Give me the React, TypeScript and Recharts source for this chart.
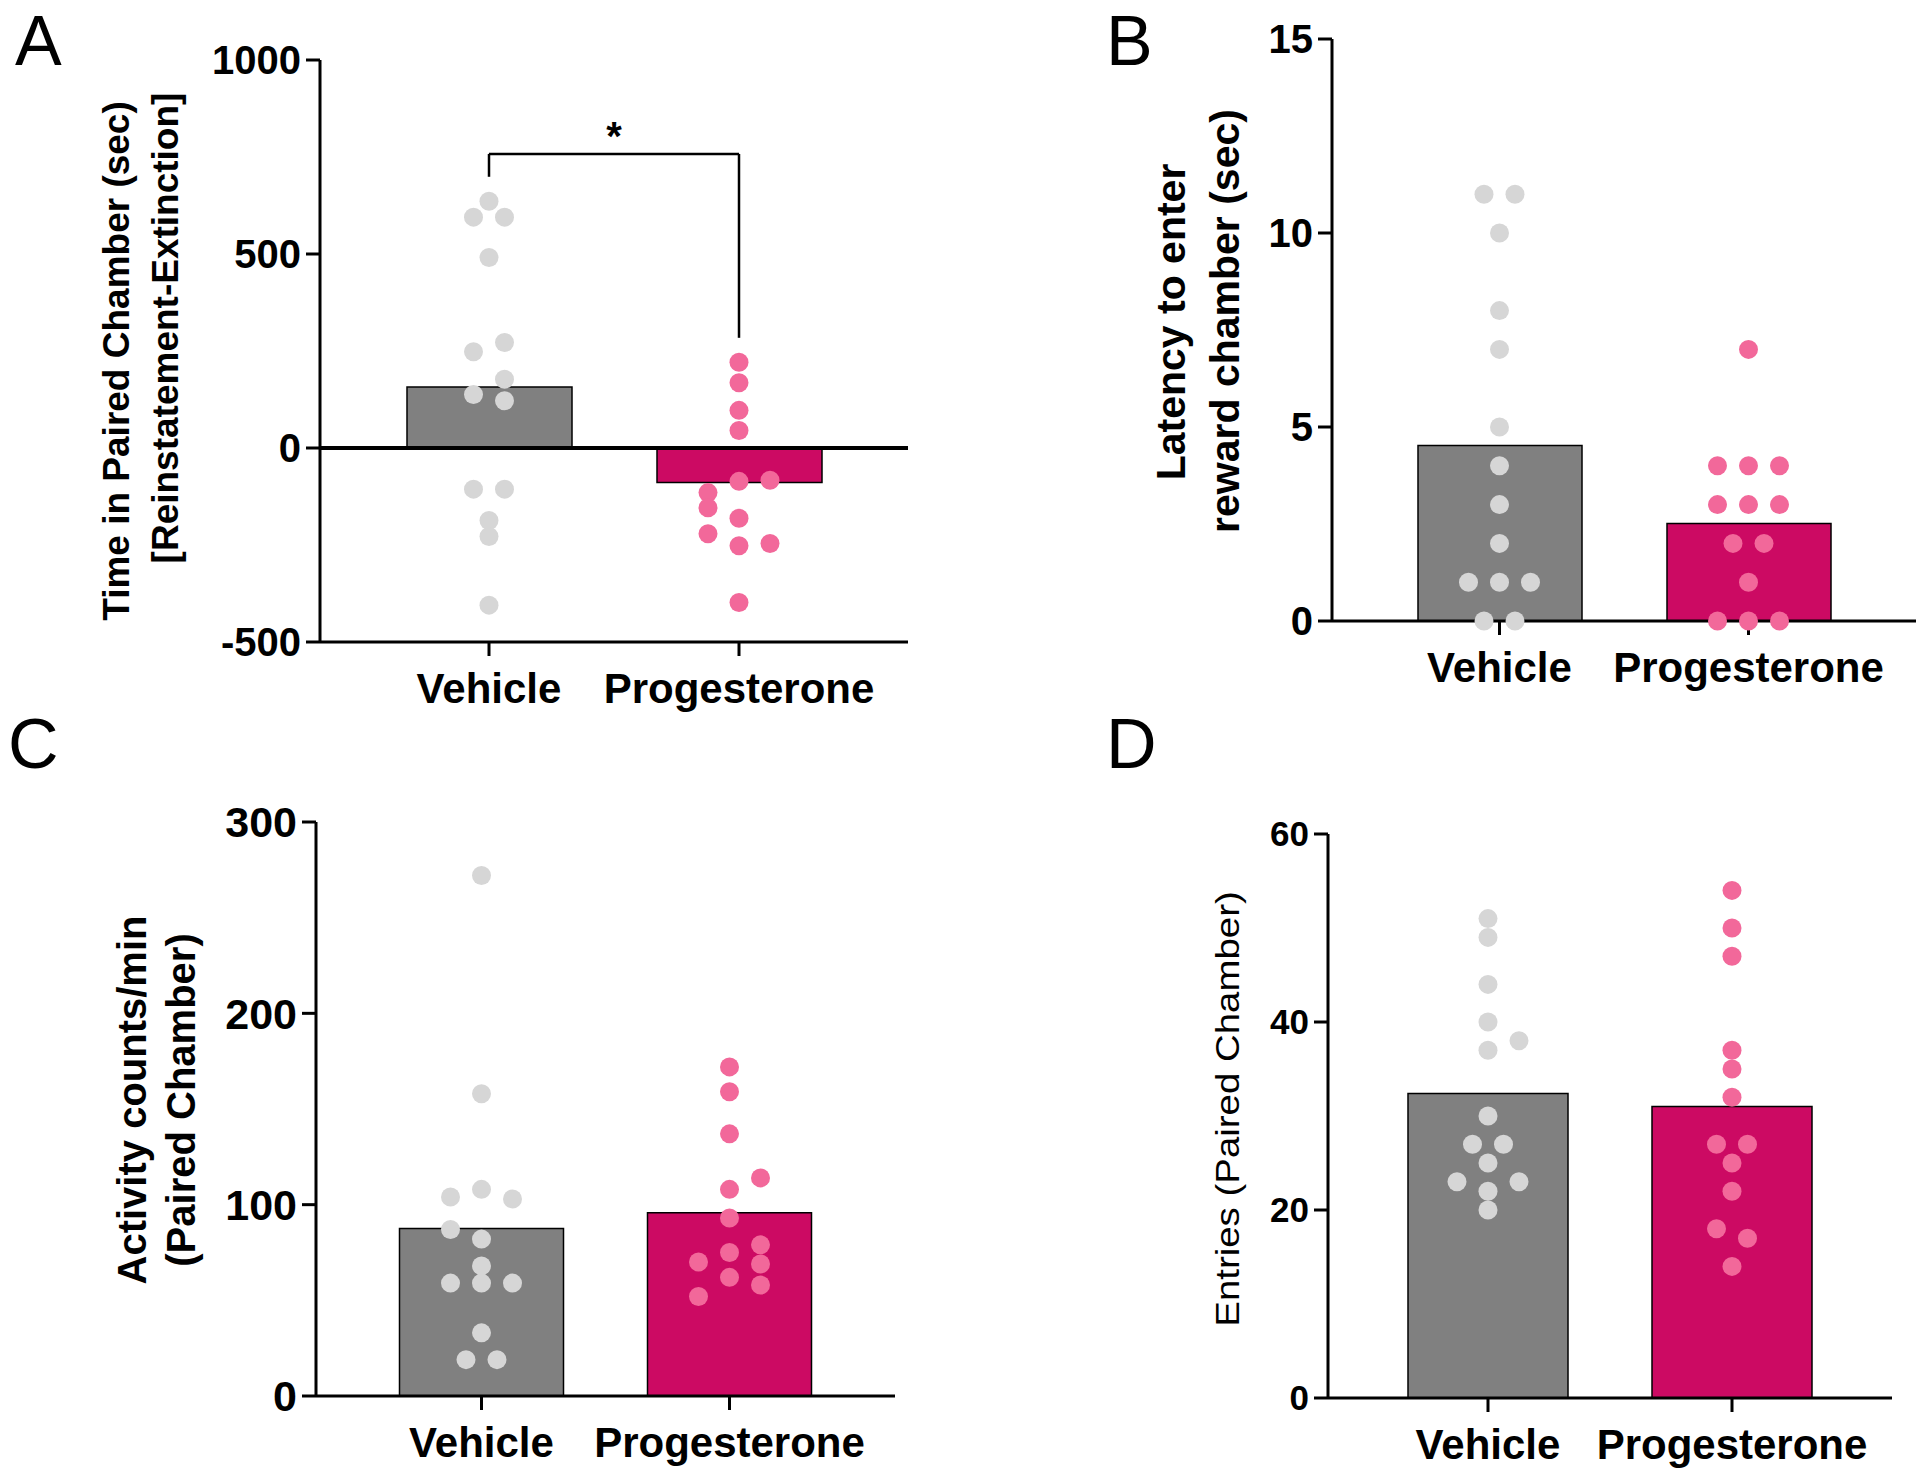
import { ComposedChart, Bar, Cell, Scatter, XAxis, YAxis, ReferenceLine, ReferenceDot } from "recharts"

const groups = ["Vehicle", "Progesterone"]

// A: time in paired chamber (reinstatement - extinction), sec
const aVehicle = [636, 595, 595, 491, 272, 248, 177, 138, 122, -106, -106, -187, -228, -405]
const aVehicleCols = [0, -1, 1, 0, 1, -1, 1, -1, 1, -1, 1, 0, 0, 0]
const aProg = [221, 168, 97, 45, -86, -83, -115, -154, -181, -221, -252, -246, -398]
const aProgCols = [0, 0, 0, 0, 0, 2, -2, -2, 0, -2, 0, 2, 0]
const aMeans = [157, -89]
const aTicks = [-500, 0, 500, 1000]
const aBracket = [699, 758, 284]

// B: latency to enter reward chamber, sec
const bVehicle = [11, 11, 10, 8, 7, 5, 4, 3, 2, 1, 1, 1, 0, 0]
const bVehicleCols = [-1, 1, 0, 0, 0, 0, 0, 0, 0, -2, 0, 2, -1, 1]
const bProg = [7, 4, 4, 4, 3, 3, 3, 2, 2, 1, 0, 0, 0]
const bProgCols = [0, -2, 0, 2, -2, 0, 2, -1, 1, 0, -2, 0, 2]
const bMeans = [4.52, 2.51]
const bTicks = [0, 5, 10, 15]

// C: activity counts/min
const cVehicle = [272, 158, 104, 108, 103, 87, 82, 68, 59, 59, 59, 33, 19, 19]
const cVehicleCols = [0, 0, -2, 0, 2, -2, 0, 0, -2, 0, 2, 0, -1, 1]
const cProg = [172, 159, 137, 114, 108, 93, 79, 70, 75, 69, 62, 58, 52]
const cProgCols = [0, 0, 0, 2, 0, 0, 2, -2, 0, 2, 0, 2, -2]
const cMeans = [87.5, 95.8]
const cTicks = [0, 100, 200, 300]

// D: entries into paired chamber
const dVehicle = [51, 49, 44, 40, 38, 37, 30, 27, 27, 25, 23, 23, 22, 20]
const dVehicleCols = [0, 0, 0, 0, 2, 0, 0, -1, 1, 0, -2, 2, 0, 0]
const dProg = [54, 50, 47, 37, 35, 32, 27, 27, 25, 22, 18, 17, 14]
const dProgCols = [0, 0, 0, 0, 0, 0, -1, 1, 0, 0, -1, 1, 0]
const dMeans = [32.4, 31.0]
const dTicks = [0, 20, 40, 60]

const FONT = "'Liberation Sans', Arial, sans-serif"
const VEH_BAR = "#808080"
const PROG_BAR = "#CC0A63"
const VEH_DOT = "#D6D6D6"
const PROG_DOT = "#F2689A"

const Panel = ({ box, ticks, tickFont, barSize, means, vehicle, vehicleCols, prog, progCols, children }: any) => {
  const yW = 130
  const mTop = 25
  const mRight = 4
  const xH = 72
  const band = (box.w - 2 * box.pad) / 2
  const slot = 15.5 / band
  const bars = groups.map((name, i) => ({ name, y: means[i] }))
  const dots = (vals: number[], cols: number[], g: number) => vals.map((v, i) => ({ x: g + cols[i] * slot, y: v }))
  const domain = [ticks[0], ticks[ticks.length - 1]]
  const axisStroke = { stroke: "#000", strokeWidth: 3 }

  return (
    <div style={{ position: "absolute", left: box.x - yW, top: box.y - mTop }}>
      <ComposedChart
        width={yW + box.w + mRight}
        height={mTop + box.h + xH}
        data={bars}
        margin={{ top: mTop, right: mRight, bottom: 0, left: 0 }}
      >
        <XAxis
          xAxisId="cat"
          dataKey="name"
          height={xH}
          padding={{ left: box.pad, right: box.pad }}
          axisLine={axisStroke}
          tickLine={axisStroke}
          tickSize={14}
          tickMargin={17}
          interval={0}
          tick={{ fill: "#000", fontSize: 42, fontWeight: 700, fontFamily: FONT }}
        />
        <XAxis
          xAxisId="num"
          type="number"
          dataKey="x"
          domain={[-0.5, 1.5]}
          padding={{ left: box.pad, right: box.pad }}
          hide
        />
        <YAxis
          type="number"
          domain={domain}
          ticks={ticks}
          interval={0}
          width={yW}
          axisLine={axisStroke}
          tickLine={axisStroke}
          tickSize={14}
          tickMargin={5}
          tick={{ fill: "#000", fontSize: tickFont, fontWeight: 700, fontFamily: FONT }}
        />
        <Bar xAxisId="cat" dataKey="y" barSize={barSize} stroke="#000" strokeWidth={1.5} isAnimationActive={false}>
          <Cell fill={VEH_BAR} />
          <Cell fill={PROG_BAR} />
        </Bar>
        <Scatter
          xAxisId="num"
          dataKey="y"
          data={dots(vehicle, vehicleCols, 0)}
          isAnimationActive={false}
          shape={(p: any) => <circle cx={p.cx} cy={p.cy} r={9.5} fill={VEH_DOT} />}
        />
        <Scatter
          xAxisId="num"
          dataKey="y"
          data={dots(prog, progCols, 1)}
          isAnimationActive={false}
          shape={(p: any) => <circle cx={p.cx} cy={p.cy} r={9.5} fill={PROG_DOT} />}
        />
        {children}
      </ComposedChart>
    </div>
  )
}

const VLabel = ({ cx, cy, fs, text, weight = 700, stretch = 1 }: any) => (
  <text
    transform={`translate(${cx + 0.26 * fs}, ${cy}) rotate(-90) scale(${stretch}, 1)`}
    textAnchor="middle"
    fontSize={fs}
    fontWeight={weight}
    fontFamily={FONT}
    fill="#000"
  >
    {text}
  </text>
)

const Letter = ({ x, y, text }: any) => (
  <text x={x} y={y} fontSize={70} fontFamily={FONT} fill="#000">
    {text}
  </text>
)

export default function App() {
  const line = { stroke: "#000", strokeWidth: 2.5 }
  return (
    <div style={{ position: "absolute", left: 0, top: 0, width: 1920, height: 1470, background: "#fff", overflow: "hidden" }}>
      <Panel
        box={{ x: 320, y: 60, w: 588, h: 582, pad: 44 }}
        ticks={aTicks}
        tickFont={40}
        barSize={165}
        means={aMeans}
        vehicle={aVehicle}
        vehicleCols={aVehicleCols}
        prog={aProg}
        progCols={aProgCols}
      >
        <ReferenceLine xAxisId="cat" y={0} stroke="#000" strokeWidth={4} />
        <ReferenceLine xAxisId="num" segment={[{ x: 0, y: aBracket[0] }, { x: 0, y: aBracket[1] }]} {...line} />
        <ReferenceLine xAxisId="num" segment={[{ x: 0, y: aBracket[1] }, { x: 1, y: aBracket[1] }]} {...line} />
        <ReferenceLine xAxisId="num" segment={[{ x: 1, y: aBracket[1] }, { x: 1, y: aBracket[2] }]} {...line} />
        <ReferenceDot
          xAxisId="num"
          x={0.5}
          y={aBracket[1]}
          r={0}
          fill="none"
          stroke="none"
          label={{ value: "*", position: "top", offset: 4, fontSize: 40, fontWeight: 700, fill: "#000", fontFamily: FONT }}
        />
      </Panel>
      <Panel
        box={{ x: 1332, y: 39, w: 584, h: 582, pad: 43 }}
        ticks={bTicks}
        tickFont={40}
        barSize={164}
        means={bMeans}
        vehicle={bVehicle}
        vehicleCols={bVehicleCols}
        prog={bProg}
        progCols={bProgCols}
      />
      <Panel
        box={{ x: 316, y: 822, w: 579, h: 574, pad: 41.5 }}
        ticks={cTicks}
        tickFont={43}
        barSize={164}
        means={cMeans}
        vehicle={cVehicle}
        vehicleCols={cVehicleCols}
        prog={cProg}
        progCols={cProgCols}
      />
      <Panel
        box={{ x: 1328, y: 834, w: 564, h: 564, pad: 38 }}
        ticks={dTicks}
        tickFont={35}
        barSize={160}
        means={dMeans}
        vehicle={dVehicle}
        vehicleCols={dVehicleCols}
        prog={dProg}
        progCols={dProgCols}
      />

      {/* panel letters and y titles */}
      <svg width={1920} height={1470} style={{ position: "absolute", left: 0, top: 0, pointerEvents: "none" }}>
        <Letter x={15} y={65} text="A" />
        <Letter x={1106} y={65} text="B" />
        <Letter x={8} y={768} text="C" />
        <Letter x={1106} y={768} text="D" />
        <VLabel cx={119} cy={361} fs={37} text="Time in Paired Chamber (sec)" />
        <VLabel cx={168} cy={328} fs={37} text="[Reinstatement-Extinction]" />
        <VLabel cx={1174} cy={322} fs={41} text="Latency to enter" />
        <VLabel cx={1228} cy={321} fs={41} text="reward chamber (sec)" />
        <VLabel cx={136} cy={1100} fs={40} text="Activity counts/min" />
        <VLabel cx={185} cy={1100} fs={40} text="(Paired Chamber)" />
        <VLabel cx={1230} cy={1109} fs={34} weight={400} stretch={1.13} text="Entries (Paired Chamber)" />
      </svg>
    </div>
  )
}
